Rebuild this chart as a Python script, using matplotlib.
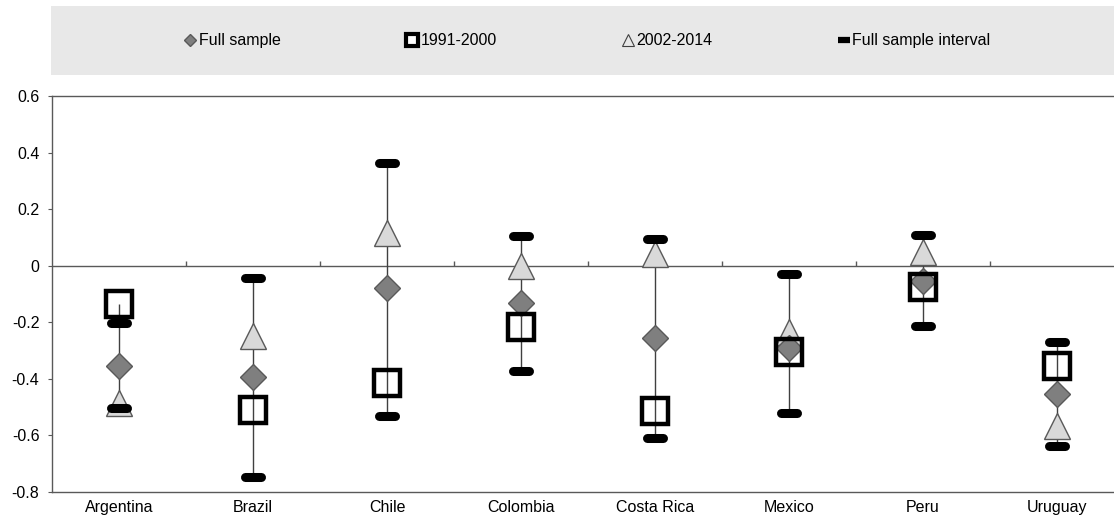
import matplotlib
matplotlib.use('Agg')
import matplotlib.pyplot as plt
import numpy as np
from matplotlib.lines import Line2D
from matplotlib.patches import Rectangle

plt.rcParams['font.family'] = ['Liberation Sans', 'DejaVu Sans']

countries = ['Argentina', 'Brazil', 'Chile', 'Colombia', 'Costa Rica', 'Mexico', 'Peru', 'Uruguay']
full_sample = [-0.355, -0.395, -0.08, -0.133, -0.255, -0.29, -0.055, -0.455]
p1991_2000 = [-0.135, -0.51, -0.415, -0.218, -0.515, -0.305, -0.077, -0.355]
p2002_2014 = [-0.485, -0.25, 0.115, -0.002, 0.04, -0.235, 0.047, -0.565]
interval_high = [-0.203, -0.044, 0.363, 0.104, 0.095, -0.03, 0.108, -0.27]
interval_low = [-0.503, -0.748, -0.53, -0.372, -0.61, -0.52, -0.212, -0.637]

x = np.arange(len(countries))
all_vals = np.array([full_sample, p1991_2000, p2002_2014, interval_high, interval_low])
hi = all_vals.max(axis=0)
lo = all_vals.min(axis=0)

fig = plt.figure(figsize=(11.14, 5.2), dpi=100)
ax = fig.add_axes([52 / 1114, 28 / 520, 1072 / 1114, 396 / 520])

# grey legend band
fig.patches.append(Rectangle((51 / 1114, 1 - 75 / 520), 1, 69 / 520,
                             transform=fig.transFigure, facecolor='#e8e8e8',
                             edgecolor='none', zorder=0))

# category axis crossing at zero, with ticks between categories
ax.axhline(0, color='#595959', lw=1.0, zorder=1)
ax.vlines(x[1:] - 0.5, 0, 0.018, color='#595959', lw=1.0, zorder=1)

# high-low lines
ax.vlines(x, lo, hi, color='#404040', lw=1.0, zorder=2)
ax.plot(x, p2002_2014, ls='none', marker='^', ms=19, mfc='#d9d9d9', mec='#595959',
        mew=1.0, zorder=3)
ax.plot(x, full_sample, ls='none', marker='D', ms=13, mfc='#7f7f7f', mec='#595959',
        mew=1.0, zorder=4)
ax.plot(x, p1991_2000, ls='none', marker='s', ms=19, mfc='none', mec='black',
        mew=3.2, zorder=5)
ax.hlines(interval_high, x - 0.062, x + 0.062, color='black', lw=6.5, capstyle='round', zorder=6)
ax.hlines(interval_low, x - 0.062, x + 0.062, color='black', lw=6.5, capstyle='round', zorder=6)

ax.set_xlim(-0.5, len(countries) - 0.5)
ax.set_ylim(-0.8, 0.6)
ax.set_yticks(np.arange(-0.8, 0.61, 0.2))
ax.set_yticklabels(['-0.8', '-0.6', '-0.4', '-0.2', '0', '0.2', '0.4', '0.6'])
ax.set_xticks(x)
ax.set_xticklabels(countries)
ax.tick_params(axis='x', length=0, labelsize=11.5, pad=6)
ax.tick_params(axis='y', length=3, labelsize=11.5, color='#595959', pad=6)
for s in ['left', 'top', 'bottom']:
    ax.spines[s].set_color('#595959')
    ax.spines[s].set_linewidth(1.0)
ax.spines['right'].set_visible(False)

handles = [
    Line2D([], [], ls='none', marker='D', ms=6, mfc='#7f7f7f', mec='#595959'),
    Line2D([], [], ls='none', marker='s', ms=9, mfc='white', mec='black', mew=3),
    Line2D([], [], ls='none', marker='^', ms=8, mfc='none', mec='#404040', mew=0.8),
    Line2D([], [], ls='none', marker='_', ms=9, mec='black', mew=4.5),
]
labels = ['Full sample', '1991-2000', '2002-2014', 'Full sample interval']
fig.legend(handles, labels, loc='center', bbox_to_anchor=(587 / 1114, 1 - 41 / 520),
           ncol=4, frameon=False, fontsize=11.5, handlelength=0.8, handletextpad=0.15,
           columnspacing=7.8)

fig.savefig('out.png', dpi=100)
